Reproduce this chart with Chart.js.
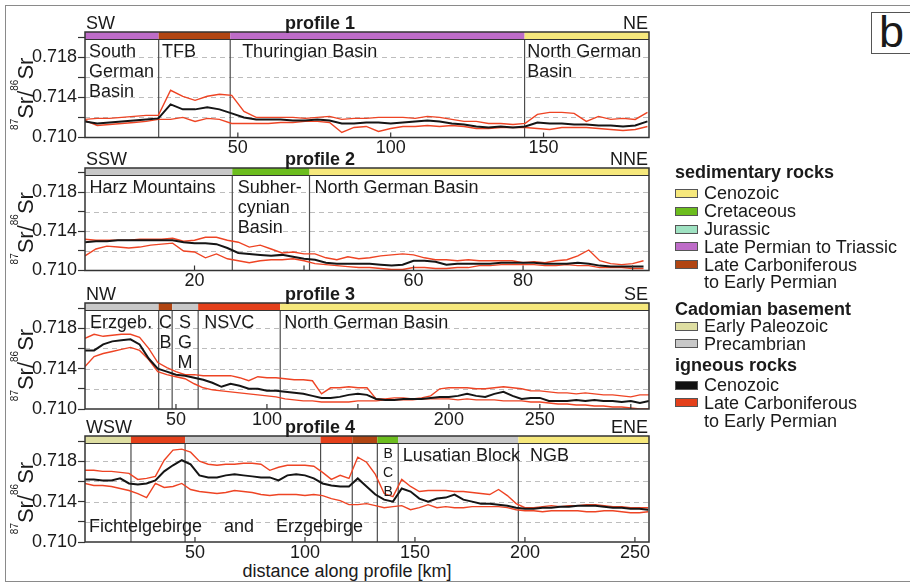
<!DOCTYPE html>
<html>
<head>
<meta charset="utf-8">
<script src="https://cdn.jsdelivr.net/npm/chart.js@4.4.1/dist/chart.umd.min.js"></script>
<style>
  body { margin: 0; background: #fff; }
  #wrap { position: relative; width: 910px; height: 584px; overflow: hidden; font-family: "Liberation Sans", Arial, sans-serif; color: #1a1a1a; }
  #wrap canvas { position: absolute; left: 0; top: 0; }
  .frame { position: absolute; left: 5px; top: 5px; width: 1000px; height: 577px; border: 1.5px solid #8a8a8a; box-sizing: border-box; }
  .tag { position: absolute; left: 871px; top: 12px; width: 60px; height: 42px; border: 1.5px solid #555; box-sizing: border-box; font-size: 45px; line-height: 38px; padding-left: 7px; }
  .lg { position: absolute; font-size: 18px; line-height: 18px; white-space: nowrap; }
  .lg.head { font-weight: bold; }
  .sw { position: absolute; width: 23px; height: 9px; border: 1px solid #555; box-sizing: border-box; }
  .xtitle { position: absolute; left: 347px; top: 562px; transform: translateX(-50%); font-size: 18px; line-height: 18px; white-space: nowrap; }
</style>
</head>
<body>
<div id="wrap">
  <div class="frame"></div>
  <div class="tag">b</div>
  <div class="xtitle">distance along profile [km]</div>
</div>
<script>
// --- data (87Sr/86Sr vs km) ---

const yTickLabels = ['0.710', '0.714', '0.718'];

// profile 1, SW -> NE
const p1XLabels = [50, 100, 150];
const p1Median = [0.7116,0.7114,0.7115,0.7116,0.7117,0.7118,0.7119,0.7133,0.7128,0.7128,0.7130,0.7128,0.7124,0.7120,0.7118,0.7118,0.7118,0.7117,0.7117,0.7118,0.7117,0.7114,0.7114,0.7115,0.7115,0.7114,0.7115,0.7116,0.7117,0.7116,0.7114,0.7113,0.7111,0.7110,0.7111,0.7110,0.7111,0.7115,0.7114,0.7114,0.7113,0.7113,0.7112,0.7112,0.7111,0.7112,0.7116];
const p1Upper = [0.7118,0.7119,0.7119,0.7120,0.7121,0.7122,0.7122,0.7147,0.7141,0.7137,0.7141,0.7143,0.7142,0.7126,0.7120,0.7120,0.7120,0.7120,0.7119,0.7120,0.7121,0.7118,0.7119,0.7119,0.7120,0.7120,0.7120,0.7119,0.7121,0.7120,0.7118,0.7116,0.7116,0.7114,0.7114,0.7113,0.7114,0.7123,0.7125,0.7125,0.7124,0.7116,0.7121,0.7118,0.7119,0.7118,0.7125];
const p1Lower = [0.7117,0.7112,0.7113,0.7114,0.7115,0.7116,0.7118,0.7118,0.7120,0.7116,0.7119,0.7118,0.7114,0.7114,0.7114,0.7114,0.7115,0.7115,0.7116,0.7116,0.7115,0.7105,0.7110,0.7111,0.7106,0.7109,0.7111,0.7111,0.7112,0.7111,0.7112,0.7111,0.7109,0.7109,0.7110,0.7110,0.7110,0.7109,0.7108,0.7110,0.7110,0.7110,0.7109,0.7108,0.7107,0.7108,0.7111];
const p1Units = [[0, 24.1, 'permTrias'], [24.1, 47.5, 'carbSed'], [47.5, 143.8, 'permTrias'], [143.8, 184.5, 'cenoSed']];
const p1Notes = [[1.3, 0, 'South'], [1.3, 1, 'German'], [1.3, 2, 'Basin'], [25.2, 0, 'TFB'], [51.4, 0, 'Thuringian Basin'], [144.7, 0, 'North German'], [144.7, 1, 'Basin']];

// profile 2, SSW -> NNE
const p2XLabels = [20, 60, 80];
const p2Median = [0.7129,0.7130,0.7130,0.7131,0.7131,0.7131,0.7131,0.7131,0.7131,0.7129,0.7128,0.7128,0.7127,0.7123,0.7118,0.7117,0.7116,0.7115,0.7116,0.7114,0.7112,0.7111,0.7108,0.7107,0.7107,0.7107,0.7107,0.7106,0.7105,0.7106,0.7110,0.7110,0.7109,0.7106,0.7107,0.7107,0.7107,0.7107,0.7108,0.7108,0.7108,0.7108,0.7107,0.7107,0.7107,0.7108,0.7107,0.7105,0.7104,0.7104,0.7104,0.7104];
const p2Upper = [0.7132,0.7131,0.7131,0.7131,0.7131,0.7132,0.7132,0.7132,0.7133,0.7130,0.7131,0.7134,0.7134,0.7131,0.7129,0.7124,0.7126,0.7122,0.7118,0.7119,0.7117,0.7117,0.7113,0.7111,0.7114,0.7112,0.7113,0.7115,0.7116,0.7117,0.7116,0.7113,0.7111,0.7111,0.7110,0.7111,0.7110,0.7110,0.7110,0.7110,0.7108,0.7109,0.7108,0.7110,0.7111,0.7115,0.7121,0.7110,0.7107,0.7106,0.7107,0.7110];
const p2Lower = [0.7115,0.7122,0.7125,0.7124,0.7123,0.7124,0.7126,0.7127,0.7128,0.7120,0.7119,0.7113,0.7117,0.7112,0.7110,0.7108,0.7110,0.7111,0.7111,0.7112,0.7110,0.7107,0.7106,0.7105,0.7104,0.7103,0.7103,0.7102,0.7101,0.7101,0.7103,0.7103,0.7102,0.7102,0.7103,0.7103,0.7105,0.7105,0.7106,0.7106,0.7106,0.7106,0.7105,0.7105,0.7106,0.7105,0.7105,0.7103,0.7103,0.7103,0.7102,0.7102];
const p2Units = [[0, 26.9, 'precamb'], [26.9, 41, 'cret'], [41, 103, 'cenoSed']];
const p2Notes = [[0.8, 0, 'Harz Mountains'], [27.9, 0, 'Subher-'], [27.9, 1, 'cynian'], [27.9, 2, 'Basin'], [41.9, 0, 'North German Basin']];

// profile 3, NW -> SE
const p3XLabels = [50, 100, 200, 250];
const p3Median = [0.7158,0.7158,0.7164,0.7167,0.7168,0.7169,0.7164,0.7150,0.7140,0.7137,0.7134,0.7133,0.7131,0.7129,0.7126,0.7122,0.7125,0.7123,0.7120,0.7120,0.7118,0.7118,0.7117,0.7116,0.7115,0.7113,0.7111,0.7111,0.7112,0.7114,0.7115,0.7114,0.7110,0.7109,0.7109,0.7110,0.7110,0.7110,0.7111,0.7112,0.7112,0.7113,0.7115,0.7113,0.7112,0.7115,0.7117,0.7113,0.7110,0.7111,0.7111,0.7108,0.7108,0.7108,0.7109,0.7108,0.7109,0.7108,0.7108,0.7107,0.7108,0.7106,0.7108];
const p3Upper = [0.7170,0.7174,0.7172,0.7173,0.7174,0.7174,0.7171,0.7160,0.7146,0.7141,0.7137,0.7134,0.7134,0.7133,0.7133,0.7133,0.7133,0.7131,0.7128,0.7132,0.7131,0.7131,0.7130,0.7129,0.7129,0.7128,0.7115,0.7121,0.7121,0.7122,0.7121,0.7121,0.7110,0.7110,0.7111,0.7111,0.7110,0.7111,0.7113,0.7120,0.7121,0.7121,0.7121,0.7120,0.7120,0.7121,0.7122,0.7121,0.7120,0.7118,0.7118,0.7117,0.7116,0.7116,0.7115,0.7116,0.7115,0.7114,0.7114,0.7113,0.7112,0.7114,0.7114];
const p3Lower = [0.7142,0.7152,0.7155,0.7157,0.7159,0.7161,0.7158,0.7149,0.7137,0.7134,0.7132,0.7130,0.7125,0.7121,0.7119,0.7118,0.7117,0.7116,0.7115,0.7114,0.7113,0.7112,0.7110,0.7109,0.7108,0.7108,0.7107,0.7107,0.7107,0.7107,0.7108,0.7108,0.7108,0.7109,0.7109,0.7109,0.7109,0.7110,0.7110,0.7110,0.7110,0.7109,0.7110,0.7109,0.7109,0.7109,0.7108,0.7108,0.7108,0.7107,0.7107,0.7106,0.7105,0.7105,0.7104,0.7104,0.7103,0.7103,0.7102,0.7102,0.7101,0.7100,0.7100];
const p3Units = [[0, 40.5, 'precamb'], [40.5, 47.9, 'carbSed'], [47.9, 62.2, 'precamb'], [62.2, 107.3, 'carbIgn'], [107.3, 310, 'cenoSed']];
const p3Notes = [[2.8, 0, 'Erzgeb.'], [44.2, 0, 'C', 'c'], [44.2, 1, 'B', 'c'], [55, 0, 'S', 'c'], [55, 1, 'G', 'c'], [55, 2, 'M', 'c'], [65.5, 0, 'NSVC'], [109.5, 0, 'North German Basin']];

// profile 4, WSW -> ENE
const p4XLabels = [50, 100, 150, 200, 250];
const p4Median = [0.7162,0.7162,0.7161,0.7161,0.7163,0.7158,0.7157,0.7158,0.7161,0.7170,0.7176,0.7181,0.7177,0.7166,0.7164,0.7164,0.7166,0.7167,0.7166,0.7165,0.7164,0.7164,0.7161,0.7166,0.7167,0.7166,0.7163,0.7158,0.7156,0.7155,0.7155,0.7163,0.7155,0.7147,0.7142,0.7140,0.7153,0.7150,0.7143,0.7140,0.7143,0.7144,0.7147,0.7142,0.7140,0.7138,0.7138,0.7137,0.7136,0.7134,0.7133,0.7133,0.7134,0.7134,0.7135,0.7135,0.7136,0.7136,0.7136,0.7135,0.7134,0.7134,0.7133,0.7133,0.7132];
const p4Upper = [0.7171,0.7171,0.7170,0.7170,0.7169,0.7168,0.7162,0.7163,0.7165,0.7181,0.7191,0.7192,0.7189,0.7180,0.7177,0.7176,0.7177,0.7177,0.7178,0.7178,0.7177,0.7171,0.7174,0.7176,0.7176,0.7176,0.7175,0.7169,0.7162,0.7166,0.7163,0.7184,0.7179,0.7167,0.7148,0.7145,0.7162,0.7155,0.7150,0.7151,0.7151,0.7151,0.7150,0.7150,0.7149,0.7148,0.7147,0.7152,0.7146,0.7138,0.7134,0.7134,0.7135,0.7136,0.7135,0.7136,0.7136,0.7137,0.7137,0.7136,0.7135,0.7135,0.7134,0.7134,0.7134];
const p4Lower = [0.7158,0.7156,0.7156,0.7155,0.7153,0.7151,0.7148,0.7144,0.7158,0.7154,0.7155,0.7158,0.7152,0.7150,0.7149,0.7148,0.7149,0.7151,0.7150,0.7149,0.7147,0.7146,0.7147,0.7147,0.7147,0.7146,0.7147,0.7146,0.7143,0.7141,0.7137,0.7137,0.7138,0.7136,0.7134,0.7135,0.7136,0.7132,0.7134,0.7137,0.7134,0.7135,0.7134,0.7134,0.7135,0.7135,0.7135,0.7135,0.7134,0.7132,0.7131,0.7131,0.7130,0.7131,0.7131,0.7131,0.7131,0.7130,0.7130,0.7131,0.7131,0.7130,0.7129,0.7129,0.7130];
const p4Units = [[0, 20.9, 'earlyPal'], [20.9, 45.5, 'carbIgn'], [45.5, 107.1, 'precamb'], [107.1, 121.5, 'carbIgn'], [121.5, 132.9, 'carbSed'], [132.9, 142.4, 'cret'], [142.4, 197, 'precamb'], [197, 256.4, 'cenoSed']];
const p4Notes = [[144.5, 0, 'Lusatian Block'], [202.3, 0, 'NGB'], [137.8, 0, 'B', 's'], [137.8, 1, 'C', 's'], [137.8, 2, 'B', 's'], [1.8, -1, 'Fichtelgebirge'], [63.2, -1, 'and'], [86.8, -1, 'Erzgebirge']];

// legend
const unitNames = {
  cenoSed: ['Cenozoic'], cret: ['Cretaceous'], jur: ['Jurassic'], permTrias: ['Late Permian to Triassic'],
  carbSed: ['Late Carboniferous', 'to Early Permian'], earlyPal: ['Early Paleozoic'], precamb: ['Precambrian'],
  cenoIgn: ['Cenozoic'], carbIgn: ['Late Carboniferous', 'to Early Permian']
};
const legendGroups = [
  ['sedimentary rocks', ['cenoSed', 'cret', 'jur', 'permTrias', 'carbSed']],
  ['Cadomian basement', ['earlyPal', 'precamb']],
  ['igneous rocks', ['cenoIgn', 'carbIgn']]
];

// --- styling ---
const FONT = '"Liberation Sans", Arial, Helvetica, sans-serif';
const W = 910, H = 584;
const PLOT_LEFT = 85, PLOT_RIGHT = 649, X_AXIS_H = 20, BAR_H = 7.5, TITLE_X = 320;
const TXT = '#1a1a1a', FRAME = '#333333', DIVIDER = '#4d4d4d', RED = '#ee4424', BLACK = '#151515', GRID = '#bdbdbd';
const UNIT_COLORS = {
  cenoSed: '#f6e87c', cret: '#6cbd1e', jur: '#9fe2c2', permTrias: '#be6cc8', carbSed: '#b14512',
  earlyPal: '#dedea2', precamb: '#c8c8c8', cenoIgn: '#111111', carbIgn: '#e4401b'
};
const LEGEND_CENTERS = [172, 193, 211, 229, 246.5, 264.5, 282, 309, 326, 343.5, 365, 385, 402.5, 421];

function kmSteps(step, n) {
  const out = [];
  for (let i = 0; i < n; i++) out.push(i * step);
  return out;
}

const panels = [
  { title: 'profile 1', from: 'SW', to: 'NE', top: 32, bottom: 137.5, xMax: 184.5, xStep: 50,
    km: kmSteps(4, p1Median.length), med: p1Median, hi: p1Upper, lo: p1Lower, units: p1Units, notes: p1Notes, xLabels: p1XLabels },
  { title: 'profile 2', from: 'SSW', to: 'NNE', top: 168, bottom: 270.5, xMax: 103, xStep: 20,
    km: kmSteps(2, p2Median.length), med: p2Median, hi: p2Upper, lo: p2Lower, units: p2Units, notes: p2Notes, xLabels: p2XLabels },
  { title: 'profile 3', from: 'NW', to: 'SE', top: 303, bottom: 409, xMax: 310, xStep: 50,
    km: kmSteps(5, p3Median.length), med: p3Median, hi: p3Upper, lo: p3Lower, units: p3Units, notes: p3Notes, xLabels: p3XLabels },
  { title: 'profile 4', from: 'WSW', to: 'ENE', top: 436, bottom: 542, xMax: 256.4, xStep: 50,
    km: kmSteps(4, p4Median.length), med: p4Median, hi: p4Upper, lo: p4Lower, units: p4Units, notes: p4Notes, xLabels: p4XLabels }
];

const wrap = document.getElementById('wrap');

// dashed grid only at the inner ticks
function hasGrid(v) {
  const k = Math.round(v * 1000);
  return k >= 712 && k <= 718;
}

// rotated 87Sr/86Sr axis title
function drawSrTitle(ctx, cx, cy) {
  const parts = [['87', '10px ' + FONT, -15], ['Sr/', '22px ' + FONT, 0], ['86', '10px ' + FONT, -15], ['Sr', '22px ' + FONT, 0]];
  ctx.save();
  ctx.translate(cx, cy);
  ctx.rotate(-Math.PI / 2);
  ctx.fillStyle = TXT;
  ctx.textAlign = 'left';
  ctx.textBaseline = 'alphabetic';
  let w = 0;
  parts.forEach(pt => { ctx.font = pt[1]; w += ctx.measureText(pt[0]).width; });
  let xx = -w / 2;
  parts.forEach(pt => {
    ctx.font = pt[1];
    ctx.fillText(pt[0], xx, pt[2]);
    xx += ctx.measureText(pt[0]).width;
  });
  ctx.restore();
}

function profilePlugin(p) {
  return {
    id: 'profile' + p.title.slice(-1),
    beforeDatasetsDraw(chart) {
      const { ctx, chartArea: a, scales: { x, y } } = chart;
      ctx.save();
      // grid lines from the y scale ticks
      ctx.strokeStyle = GRID;
      ctx.lineWidth = 1;
      ctx.setLineDash([5, 4]);
      y.ticks.forEach(t => {
        if (!hasGrid(t.value)) return;
        const py = Math.round(y.getPixelForValue(t.value)) + 0.5;
        ctx.beginPath();
        ctx.moveTo(a.left, py);
        ctx.lineTo(a.right, py);
        ctx.stroke();
      });
      ctx.setLineDash([]);
      // boundaries between geological units
      ctx.strokeStyle = DIVIDER;
      ctx.lineWidth = 1.2;
      p.units.slice(1).forEach(u => {
        const px = x.getPixelForValue(u[0]);
        ctx.beginPath();
        ctx.moveTo(px, a.top + BAR_H);
        ctx.lineTo(px, a.bottom);
        ctx.stroke();
      });
      ctx.restore();
    },
    afterDatasetsDraw(chart) {
      const { ctx, chartArea: a, scales: { x } } = chart;
      ctx.save();
      // geology bar on top
      p.units.forEach(u => {
        const x0 = x.getPixelForValue(u[0]);
        const x1 = Math.min(x.getPixelForValue(u[1]), a.right);
        ctx.fillStyle = UNIT_COLORS[u[2]];
        ctx.fillRect(x0, a.top, x1 - x0, BAR_H);
      });
      ctx.strokeStyle = FRAME;
      ctx.lineWidth = 1;
      ctx.beginPath();
      ctx.moveTo(a.left, a.top + BAR_H);
      ctx.lineTo(a.right, a.top + BAR_H);
      ctx.stroke();
      ctx.lineWidth = 1.5;
      ctx.strokeRect(a.left, a.top, a.right - a.left, a.bottom - a.top);

      // inward ticks on the distance axis
      ctx.lineWidth = 1.2;
      x.ticks.forEach(t => {
        const px = x.getPixelForValue(t.value);
        if (px <= a.left + 1 || px >= a.right - 1) return;
        ctx.beginPath();
        ctx.moveTo(px, a.bottom);
        ctx.lineTo(px, a.bottom - 5);
        ctx.stroke();
      });

      // region names
      ctx.fillStyle = TXT;
      ctx.textBaseline = 'alphabetic';
      p.notes.forEach(n => {
        const px = x.getPixelForValue(n[0]);
        let py = n[1] >= 0 ? a.top + 25 + n[1] * 20 : a.bottom - 10;
        ctx.font = '18px ' + FONT;
        ctx.textAlign = 'left';
        if (n[3] === 'c') ctx.textAlign = 'center';
        if (n[3] === 's') {
          ctx.textAlign = 'center';
          ctx.font = '14px ' + FONT;
          py = a.top + 22 + n[1] * 19;
        }
        ctx.fillText(n[2], px, py);
      });

      // direction labels and title
      ctx.font = '18px ' + FONT;
      ctx.textAlign = 'left';
      ctx.fillText(p.from, a.left + 1, a.top - 3);
      ctx.textAlign = 'right';
      ctx.fillText(p.to, a.right - 1, a.top - 3);
      ctx.font = 'bold 18px ' + FONT;
      ctx.textAlign = 'center';
      ctx.fillText(p.title, TITLE_X, a.top - 3);
      ctx.restore();

      drawSrTitle(ctx, 33, (a.top + a.bottom) / 2 + 9);
    }
  };
}

function makeChart(p) {
  const canvas = document.createElement('canvas');
  canvas.width = W;
  canvas.height = H;
  wrap.appendChild(canvas);
  const pts = arr => p.km.map((k, i) => ({ x: k, y: arr[i] }));
  return new Chart(canvas, {
    type: 'line',
    data: {
      datasets: [
        { data: pts(p.med), borderColor: BLACK, borderWidth: 2 },
        { data: pts(p.hi), borderColor: RED, borderWidth: 1.4 },
        { data: pts(p.lo), borderColor: RED, borderWidth: 1.4 }
      ]
    },
    options: {
      responsive: false,
      animation: false,
      devicePixelRatio: 1,
      layout: { padding: { left: 0, right: W - PLOT_RIGHT, top: p.top, bottom: H - p.bottom - X_AXIS_H } },
      elements: { point: { radius: 0 }, line: { tension: 0 } },
      plugins: { legend: { display: false }, tooltip: { enabled: false } },
      scales: {
        x: {
          type: 'linear', min: 0, max: p.xMax,
          afterFit: s => { s.height = X_AXIS_H; },
          grid: { display: false, drawTicks: false },
          border: { display: false },
          ticks: {
            stepSize: p.xStep, includeBounds: false, autoSkip: false, maxRotation: 0, padding: 0,
            color: TXT, font: { size: 18, family: FONT },
            callback: v => p.xLabels.includes(v) ? String(v) : ''
          }
        },
        y: {
          min: 0.710, max: 0.7205,
          afterFit: s => { s.width = PLOT_LEFT; },
          grid: { drawOnChartArea: false, tickColor: FRAME, tickLength: 7, tickWidth: 1.2 },
          border: { display: false },
          ticks: {
            stepSize: 0.002, includeBounds: false, autoSkip: false, padding: 1,
            color: TXT, font: { size: 18, family: FONT },
            callback: v => yTickLabels.includes(v.toFixed(3)) ? v.toFixed(3) : ''
          }
        }
      }
    },
    plugins: [profilePlugin(p)]
  });
}

panels.forEach(makeChart);

// legend on the right
let row = 0;
function legendText(text, left, center, head) {
  const d = document.createElement('div');
  d.className = head ? 'lg head' : 'lg';
  d.style.left = left + 'px';
  d.style.top = (center - 9) + 'px';
  d.textContent = text;
  wrap.appendChild(d);
}
legendGroups.forEach(g => {
  legendText(g[0], 675, LEGEND_CENTERS[row++], true);
  g[1].forEach(key => {
    const c = LEGEND_CENTERS[row];
    const sw = document.createElement('div');
    sw.className = 'sw';
    sw.style.left = '675px';
    sw.style.top = (c - 4.5) + 'px';
    sw.style.background = UNIT_COLORS[key];
    wrap.appendChild(sw);
    unitNames[key].forEach(line => legendText(line, 704, LEGEND_CENTERS[row++], false));
  });
});
</script>
</body>
</html>
